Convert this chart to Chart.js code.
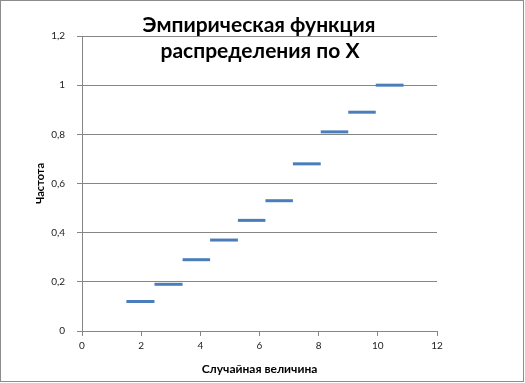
<!DOCTYPE html>
<html>
<head>
<meta charset="utf-8">
<script src="https://cdn.jsdelivr.net/npm/chart.js@4/dist/chart.umd.min.js"></script>
<style>
  html, body { margin: 0; padding: 0; background: #fff; }
  canvas { display: block; }
</style>
</head>
<body>
<canvas id="c" width="525" height="383"></canvas>
<script>
// ---- data ----
const titleLines = ['Эмпирическая функция', 'распределения по X'];
const xAxisTitle = 'Случайная величина';
const yAxisTitle = 'Частота';
// step boundaries of the empirical distribution function (x)
const xEdges = [1.5, 2.45, 3.4, 4.33, 5.27, 6.2, 7.13, 8.07, 9.0, 9.93, 10.87];
// value of F(x) on each step
const freqValues = [0.12, 0.19, 0.29, 0.37, 0.45, 0.53, 0.68, 0.81, 0.89, 1.0];
const xTickLabels = ['0', '2', '4', '6', '8', '10', '12'];
const yTickLabels = ['0', '0,2', '0,4', '0,6', '0,8', '1', '1,2'];

const lineColor = '#4A7EBB';
const gridColor = '#868686';
const tickFont = { family: "Lato, 'Liberation Sans', sans-serif", size: 10 };

const datasets = freqValues.map((v, i) => ({
  label: 'F' + i,
  data: [{ x: xEdges[i], y: v }, { x: xEdges[i + 1], y: v }],
  showLine: true,
  borderColor: lineColor,
  backgroundColor: lineColor,
  borderWidth: 3,
  borderCapStyle: 'butt',
  pointRadius: 0,
  pointHoverRadius: 0,
  fill: false
}));

const framePlugin = {
  id: 'frame',
  beforeDraw(chart) {
    const ctx = chart.ctx;
    ctx.save();
    ctx.fillStyle = '#fff';
    ctx.fillRect(0, 0, chart.width, chart.height);
    ctx.strokeStyle = '#8c8c8c';
    ctx.lineWidth = 1;
    ctx.strokeRect(0.5, 0.5, chart.width - 2, chart.height - 2);
    ctx.restore();
  },
  afterDraw(chart) {
    const ctx = chart.ctx;
    ctx.save();
    ctx.fillStyle = '#000';
    ctx.textAlign = 'center';
    ctx.textBaseline = 'alphabetic';
    ctx.font = "bold 21px Lato, 'Open Sans', sans-serif";
    ctx.fillText(titleLines[0], 259, 32);
    ctx.fillText(titleLines[1], 260, 58);
    ctx.restore();
  }
};

new Chart(document.getElementById('c'), {
  type: 'scatter',
  data: { datasets },
  options: {
    responsive: false,
    devicePixelRatio: 1,
    animation: false,
    layout: { padding: { left: 0, top: 36, right: 88, bottom: 0 } },
    plugins: {
      legend: { display: false },
      tooltip: { enabled: false },
      title: { display: false }
    },
    scales: {
      x: {
        type: 'linear',
        min: 0, max: 12,
        ticks: {
          stepSize: 2,
          padding: 4,
          color: '#222',
          font: tickFont,
          callback: (v, i) => xTickLabels[i]
        },
        grid: {
          drawOnChartArea: false,
          drawTicks: true,
          tickLength: 5,
          color: gridColor
        },
        border: { display: true, color: gridColor, width: 1 },
        title: {
          display: true,
          text: xAxisTitle,
          color: '#000',
          font: { family: "Lato, 'Liberation Sans', sans-serif", size: 12, weight: 'bold' },
          padding: { top: 0, bottom: 7 }
        },
        afterFit(scale) { scale.height = 52; }
      },
      y: {
        type: 'linear',
        min: 0, max: 1.2,
        ticks: {
          stepSize: 0.2,
          padding: 12,
          color: '#222',
          font: tickFont,
          callback: (v, i) => yTickLabels[i]
        },
        grid: {
          drawOnChartArea: true,
          drawTicks: true,
          tickLength: 5,
          color: gridColor
        },
        border: { display: true, color: gridColor, width: 1 },
        title: {
          display: true,
          text: yAxisTitle,
          color: '#000',
          font: { family: "Lato, 'Liberation Sans', sans-serif", size: 11, weight: 'bold' },
          padding: { top: 34, bottom: 0 }
        },
        afterFit(scale) { scale.width = 82; }
      }
    }
  },
  plugins: [framePlugin]
});
</script>
</body>
</html>
